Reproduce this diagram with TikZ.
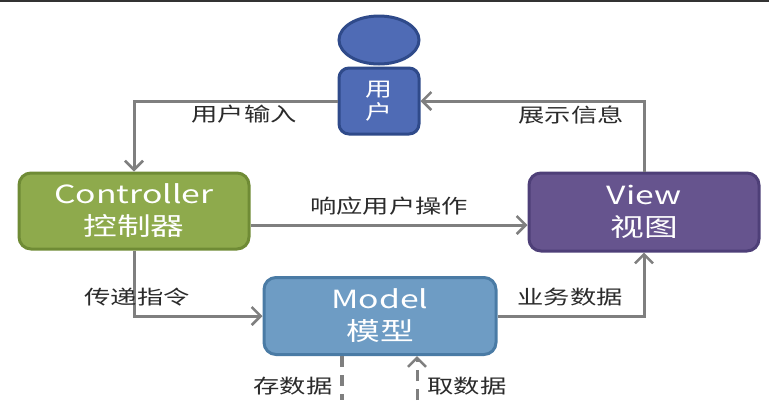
\documentclass[tikz,border=0pt]{standalone}
\usepackage{fontspec}
\setmainfont{Noto Sans CJK SC}
\newfontfamily\cjkwide[FakeStretch=1.35]{Noto Sans CJK SC}
\usetikzlibrary{arrows.meta,shapes.geometric}
\definecolor{linegray}{HTML}{7F7F7F}
\definecolor{usrfill}{HTML}{4F6BB5}
\definecolor{usrdraw}{HTML}{2F4A8A}
\definecolor{ctrlfill}{HTML}{8EAA4C}
\definecolor{ctrldraw}{HTML}{6F8B35}
\definecolor{viewfill}{HTML}{66548E}
\definecolor{viewdraw}{HTML}{4E3F78}
\definecolor{modfill}{HTML}{6E9CC4}
\definecolor{moddraw}{HTML}{4A7BA5}
\definecolor{txtgray}{HTML}{2B2B2B}
\begin{document}
\begin{tikzpicture}[x=1pt,y=-1pt,
  box/.style={rounded corners=12pt, line width=3pt, text=white, align=center,
    inner sep=0pt, font=\cjkwide\fontsize{25}{32}\selectfont},
  arr/.style={draw=linegray, line width=3pt, -{Straight Barb[length=9pt,width=18pt,line width=2.5pt]}},
  conn/.style={draw=linegray, line width=3pt},
  lbl/.style={text=txtgray, font=\cjkwide\fontsize{19.5}{21}\selectfont, inner sep=0pt}]
\useasboundingbox (0,0) rectangle (769,400);
\fill[white] (0,0) rectangle (769,400);
\draw[line width=2.5pt, color=black!80] (0,1) -- (769,1);
% nodes
\node[ellipse, fill=usrfill, draw=usrdraw, line width=3pt, minimum width=80pt, minimum height=48pt, inner sep=0pt] (head) at (379,40) {};
\node[box, fill=usrfill, draw=usrdraw, minimum width=80pt, minimum height=66pt, rounded corners=10pt,
  font=\cjkwide\fontsize{20}{23}\selectfont] (user) at (379,101) {用\\户};
\node[box, fill=ctrlfill, draw=ctrldraw, minimum width=230pt, minimum height=76pt] (ctrl) at (134,211) {Controller\\控制器};
\node[box, fill=viewfill, draw=viewdraw, minimum width=230pt, minimum height=78pt] (view) at (644,212) {View\\视图};
\node[box, fill=modfill, draw=moddraw, minimum width=232pt, minimum height=77pt] (model) at (380,316) {Model\\模型};
% connectors
\draw[arr] (user.west) -| (ctrl.north);
\draw[arr] (view.north) |- (user.east);
\coordinate (hl) at (0,225);
\draw[arr] (ctrl.east |- hl) -- (view.west |- hl);
\draw[arr] (ctrl.south) |- (model.west);
\draw[arr] (model.east) -| (view.south);
\coordinate (s1) at (342,400);
\coordinate (s2) at (417,400);
\draw[conn, line width=4pt, dash pattern=on 11pt off 8pt] (model.south -| s1) -- (s1);
\draw[arr, dash pattern=on 11pt off 8pt] (s2) -- (model.south -| s2);
% labels
\node[lbl] (l1) at (244,114) {用户输入};
\node[lbl] (l2) at (571,115) {展示信息};
\node[lbl] (l3) at (389,206) {响应用户操作};
\node[lbl] (l4) at (137,297) {传递指令};
\node[lbl] (l5) at (570,297) {业务数据};
\node[lbl] (l6) at (293,386) {存数据};
\node[lbl] (l7) at (467,386) {取数据};
\end{tikzpicture}
\end{document}
